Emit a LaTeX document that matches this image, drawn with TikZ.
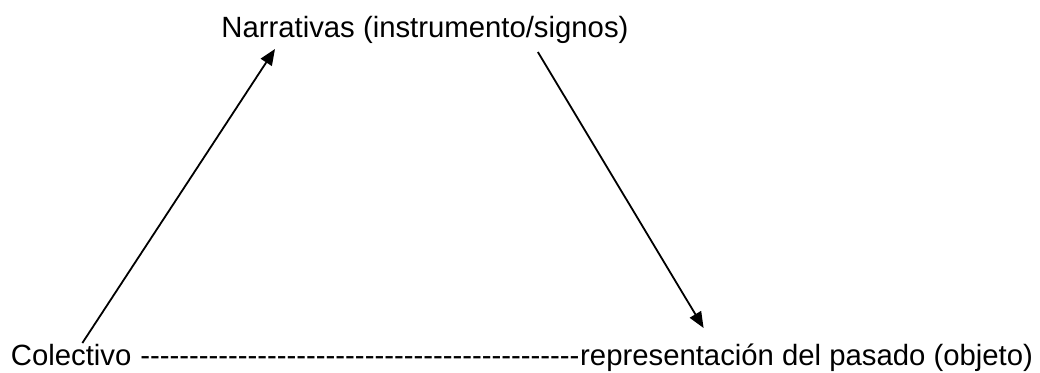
\documentclass[tikz,border=0pt]{standalone}
\usepackage{fontspec}
\setmainfont{Liberation Sans}
\usetikzlibrary{positioning,arrows.meta}

\begin{document}
\begin{tikzpicture}[
		x=0.5pt, y=-0.5pt,
		lbl/.style={inner sep=0pt, font=\fontsize{14.65}{17}\selectfont},
		arrow/.style={-{Triangle[length=8pt,width=6.5pt]}, line width=0.9pt}
		]
		
		\useasboundingbox (0,0) rectangle (1040,372);
		
		\node[lbl, anchor=base west] (narr) at (221,37) {Narrativas (instrumento/signos)};
		
		\node[lbl, anchor=base west] (colect) at (10.5,365) {Colectivo};
		% 45 guiones sueltos, sin ligaduras
		\node[lbl, anchor=base west] (guiones) at (colect.base east) {\ \foreach \i in {1,...,45}{\mbox{-}}};
		\node[lbl, anchor=base west] (repr) at (guiones.base east) {representación del pasado (objeto)};
		
		\draw[arrow] ([xshift=5.6pt,yshift=11pt]colect.base) -- ([xshift=27pt,yshift=-6pt]narr.base west);
		\draw[arrow] ([xshift=-45.5pt,yshift=-7.5pt]narr.base east) -- ([xshift=61.9pt,yshift=18.5pt]repr.base west);
		
	\end{tikzpicture}
\end{document}
